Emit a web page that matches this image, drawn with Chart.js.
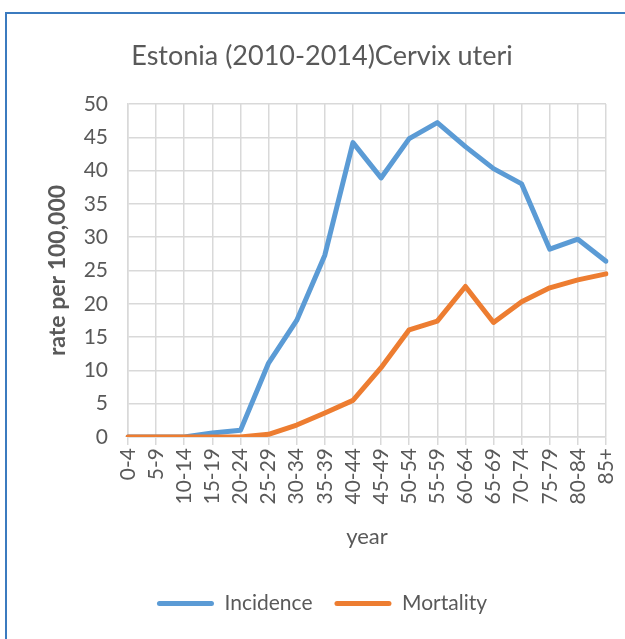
<!DOCTYPE html>
<html>
<head>
<meta charset="utf-8">
<script src="https://cdn.jsdelivr.net/npm/chart.js@4.4.1/dist/chart.umd.min.js"></script>
<style>
  body { margin: 0; background: #fff; }
  #wrap { position: relative; width: 625px; height: 639px; overflow: hidden; }
  #frame { position: absolute; left: 5px; top: 12px; width: 640px; height: 660px;
           border-top: 2px solid #3b7bbf; border-left: 2px solid #3b7bbf; pointer-events: none; }
  canvas { position: absolute; left: 0; top: 0; }
</style>
</head>
<body>
<div id="wrap">
  <canvas id="chart" width="625" height="639"></canvas>
  <div id="frame"></div>
</div>
<script>
// age groups on the x axis
const ageGroups = ['0-4', '5-9', '10-14', '15-19', '20-24', '25-29', '30-34', '35-39', '40-44',
  '45-49', '50-54', '55-59', '60-64', '65-69', '70-74', '75-79', '80-84', '85+'];

// rate per 100,000
const incidence = [0, 0, 0, 0.6, 1.0, 11.1, 17.5, 27.3, 44.2, 38.9, 44.8, 47.2, 43.6, 40.3, 38.0, 28.2, 29.7, 26.4];
const mortality = [0, 0, 0, 0, 0, 0.4, 1.8, 3.6, 5.5, 10.4, 16.1, 17.4, 22.6, 17.2, 20.3, 22.4, 23.6, 24.5];

const yTicks = [0, 5, 10, 15, 20, 25, 30, 35, 40, 45, 50];

const textColor = '#595959';
const gridColor = '#d9d9d9';
const fontFamily = 'Lato, "Open Sans", sans-serif';

const canvas = document.getElementById('chart');
const ctx = canvas.getContext('2d');

new Chart(ctx, {
    type: 'line',
    data: {
        labels: ageGroups,
        datasets: [
            // mortality is drawn over incidence, like in the original
            { label: 'Incidence', data: incidence, borderColor: '#5b9bd5', backgroundColor: '#5b9bd5', order: 1 },
            { label: 'Mortality', data: mortality, borderColor: '#ed7d31', backgroundColor: '#ed7d31', order: 0 },
        ],
    },
    options: {
        responsive: false,
        animation: false,
        devicePixelRatio: 1,
        layout: { padding: { left: 38, right: 19, top: 0, bottom: 15 } },
        elements: {
            line: { borderWidth: 5, tension: 0, borderJoinStyle: 'round', borderCapStyle: 'round' },
            point: { radius: 0, hoverRadius: 0 },
        },
        scales: {
            x: {
                offset: false,
                grid: { color: gridColor, lineWidth: 1.5, tickLength: 8, drawTicks: true },
                border: { color: gridColor, width: 1.5 },
                ticks: {
                    color: textColor, font: { family: fontFamily, size: 21 },
                    maxRotation: 90, minRotation: 90, autoSkip: false, padding: 3,
                },
                title: {
                    display: true, text: 'year', color: textColor,
                    font: { family: fontFamily, size: 22 }, padding: { top: 21, bottom: 21 },
                },
                afterFit: (scale) => {
                    scale.height = 134;
                    scale.paddingLeft = 0;
                    scale.paddingRight = 0;
                },
            },
            y: {
                min: 0,
                max: 50,
                afterBuildTicks: (scale) => { scale.ticks = yTicks.map(v => ({ value: v })); },
                grid: { color: gridColor, lineWidth: 1.5, drawTicks: false },
                border: { color: gridColor, width: 1.5 },
                ticks: { color: textColor, font: { family: fontFamily, size: 21 }, padding: 20 },
                title: {
                    display: true, text: 'rate per 100,000', color: textColor,
                    font: { family: fontFamily, size: 23, weight: 'bold' }, padding: { top: 6, bottom: 6 },
                },
                afterFit: (scale) => { scale.width = 90; },
            },
        },
        plugins: {
            title: {
                display: true,
                text: 'Estonia (2010-2014)Cervix uteri',
                color: textColor,
                font: { family: fontFamily, size: 27, weight: 'normal' },
                padding: { top: 40, bottom: 31.6 },
            },
            legend: {
                position: 'bottom',
                labels: {
                    color: textColor,
                    font: { family: fontFamily, size: 21 },
                    boxWidth: 57,
                    boxHeight: 5,
                    padding: 22,
                    useBorderRadius: true,
                    borderRadius: 2.5,
                    sort: (a, b) => a.datasetIndex - b.datasetIndex,
                    generateLabels: (chart) => Chart.defaults.plugins.legend.labels.generateLabels(chart)
                        .map(item => ({ ...item, lineWidth: 0 })),
                },
            },
            tooltip: { enabled: false },
        },
    },
});
</script>
</body>
</html>
